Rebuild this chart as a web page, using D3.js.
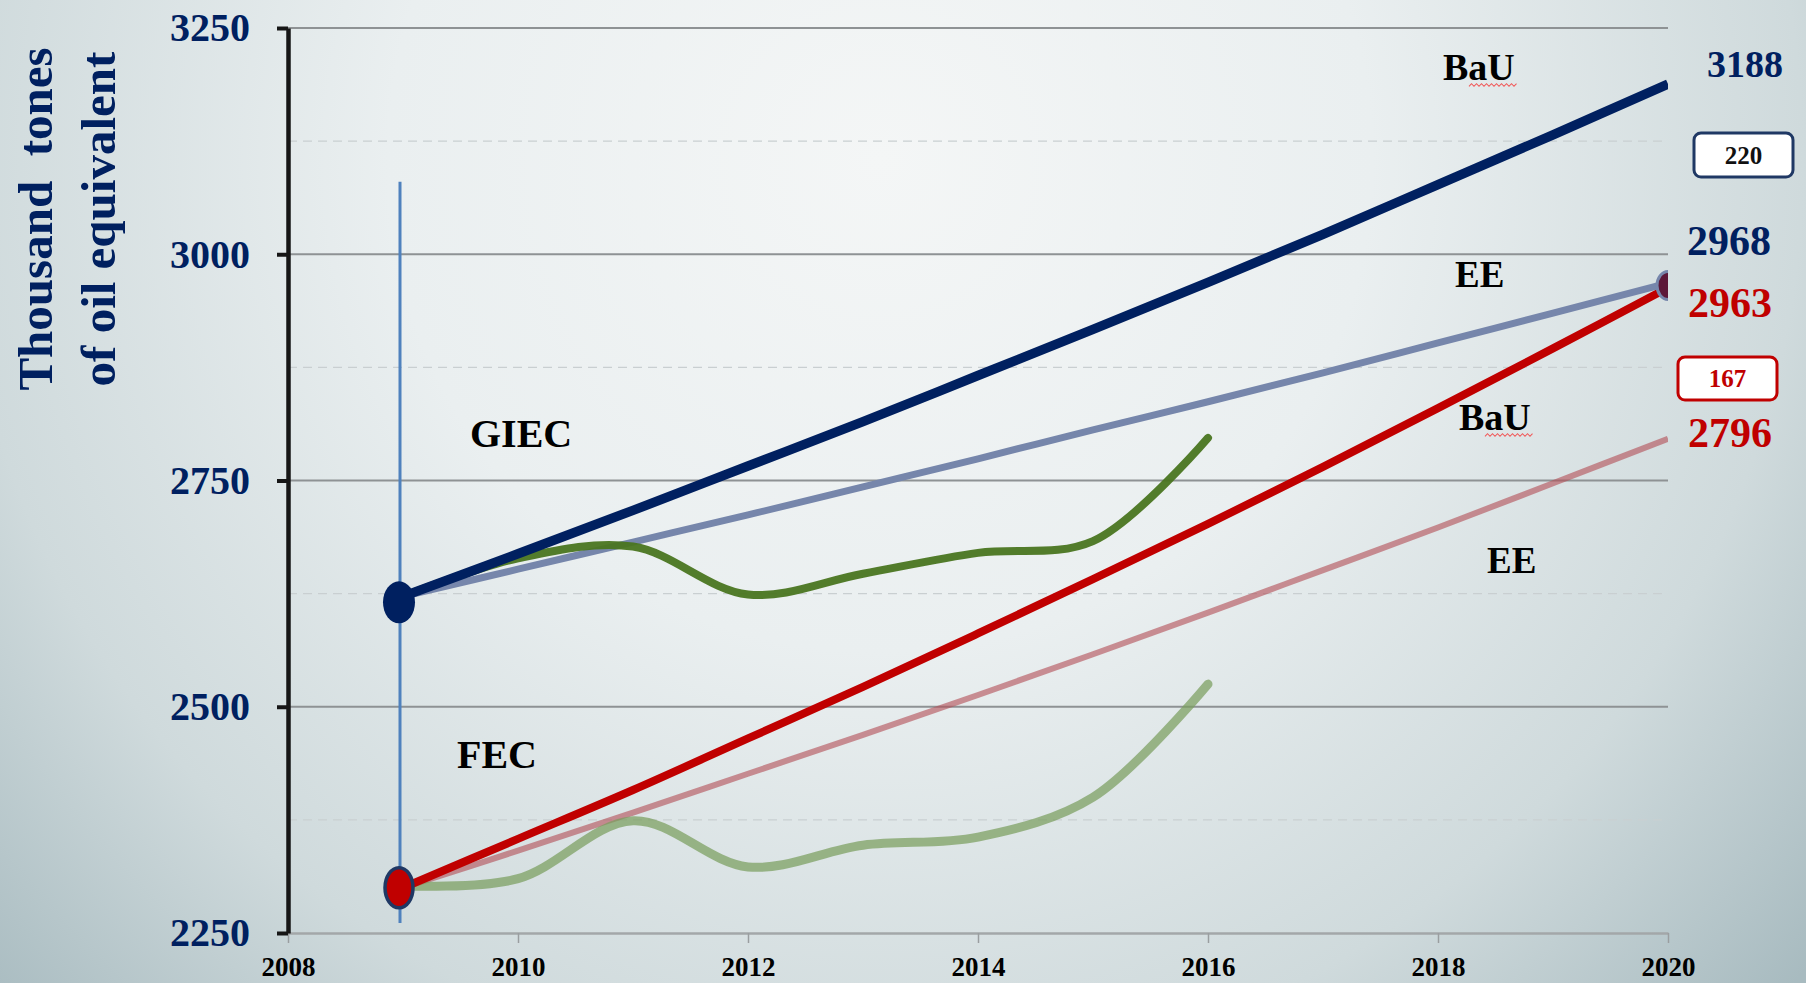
<!DOCTYPE html>
<html>
<head>
<meta charset="utf-8">
<script src="https://cdn.jsdelivr.net/npm/d3@7/dist/d3.min.js"></script>
<style>
  html, body { margin: 0; padding: 0; background: #e6ecec; }
  svg { display: block; }
  text { font-family: "Liberation Serif", "Times New Roman", serif; font-weight: bold; }
</style>
</head>
<body>
<svg id="chart" width="1806" height="983"></svg>
<script>
// ---------------- data ----------------
const scenarioYears = [2009, 2010, 2011, 2012, 2013, 2014, 2015, 2016, 2017, 2018, 2019, 2020];
const giecBaU = [2622, 2669, 2717, 2766, 2815, 2866, 2917, 2969, 3022, 3077, 3132, 3188];
const giecEE  = [2622, 2652, 2682, 2712, 2743, 2774, 2806, 2837, 2869, 2902, 2935, 2968];
const fecBaU  = [2300, 2354, 2408, 2465, 2522, 2581, 2641, 2702, 2765, 2830, 2896, 2963];
const fecEE   = [2300, 2341, 2383, 2426, 2469, 2513, 2558, 2604, 2651, 2698, 2747, 2796];
const actualYears = [2009, 2010, 2011, 2012, 2013, 2014, 2015, 2016];
const giecActual = [2622, 2664, 2677, 2624, 2647, 2670, 2683, 2797];
const fecActual  = [2302, 2310, 2374, 2323, 2347, 2356, 2400, 2525];
const xTicks = [2008, 2010, 2012, 2014, 2016, 2018, 2020];
const yTicks = [2250, 2500, 2750, 3000, 3250];
const yMinorGrid = [2375, 2625, 2875, 3125];
const yTitle = ["Thousand  tones", "of oil equivalent"];
const endLabels = ["3188", "2968", "2963", "2796"];
const diffLabels = ["220", "167"];

// ---------------- layout ----------------
const W = 1806, H = 983;
const svg = d3.select("#chart");
const x = d3.scaleLinear().domain([2008, 2020]).range([288, 1668]);
const y = d3.scaleLinear().domain([2250, 3250]).range([933, 28]);

const NAVY = "#002060";
const RED = "#c00000";

// background
const defs = svg.append("defs");
const bg = defs.append("radialGradient").attr("id", "bg")
  .attr("gradientUnits", "userSpaceOnUse")
  .attr("cx", 880).attr("cy", 160).attr("r", 1230);
bg.append("stop").attr("offset", 0).attr("stop-color", "#f4f6f6");
bg.append("stop").attr("offset", 0.4).attr("stop-color", "#eaeff0");
bg.append("stop").attr("offset", 0.75).attr("stop-color", "#cfdadc");
bg.append("stop").attr("offset", 1).attr("stop-color", "#a8bbc0");
svg.append("rect").attr("width", W).attr("height", H).attr("fill", "url(#bg)");

defs.append("clipPath").attr("id", "plotclip").append("rect")
  .attr("x", 0).attr("y", 0).attr("width", x(2020)).attr("height", H);

// gridlines
const g = svg.append("g");
g.selectAll("line.minor").data(yMinorGrid).join("line")
  .attr("x1", x(2008)).attr("x2", x(2020))
  .attr("y1", d => y(d)).attr("y2", d => y(d))
  .attr("stroke", "#c9cfd1").attr("stroke-width", 1.3).attr("stroke-dasharray", "9,6");
g.selectAll("line.major").data(yTicks.slice(1)).join("line")
  .attr("x1", x(2008)).attr("x2", x(2020))
  .attr("y1", d => y(d)).attr("y2", d => y(d))
  .attr("stroke", "#8e9294").attr("stroke-width", 1.8);

// x axis
const xAxis = svg.append("g").attr("transform", `translate(0,${y(2250)})`)
  .call(d3.axisBottom(x).tickValues(xTicks).tickFormat(d3.format("d")).tickSize(10).tickSizeOuter(0).tickPadding(14));
xAxis.select(".domain").attr("stroke", "#a3a7a9").attr("stroke-width", 2.5);
xAxis.selectAll(".tick line").attr("stroke", "#9a9ea0").attr("stroke-width", 1.5);
xAxis.selectAll(".tick text").attr("fill", "#000").style("font-size", "27px")
  .style("font-family", "'Liberation Serif', serif").style("font-weight", "bold");

// y axis
const yAxis = svg.append("g").attr("transform", `translate(${x(2008)},0)`)
  .call(d3.axisLeft(y).tickValues(yTicks).tickFormat(d3.format("d")).tickSize(11).tickSizeOuter(0).tickPadding(27));
yAxis.select(".domain").attr("stroke", "#161616").attr("stroke-width", 4.5);
yAxis.selectAll(".tick line").attr("stroke", "#161616").attr("stroke-width", 4);
yAxis.selectAll(".tick text").attr("fill", NAVY).style("font-size", "40px")
  .style("font-family", "'Liberation Serif', serif").style("font-weight", "bold");

// y title
svg.append("g").attr("transform", "translate(52,219) rotate(-90)")
  .selectAll("text").data(yTitle).join("text")
  .attr("x", 0).attr("y", (d, i) => i * 63)
  .attr("text-anchor", "middle").attr("fill", NAVY)
  .style("font-size", "49px").style("white-space", "pre")
  .text(d => d);

// vertical reference line at 2009
svg.append("line")
  .attr("x1", x(2009) - 3).attr("x2", x(2009) - 3)
  .attr("y1", y(3080)).attr("y2", y(2261))
  .attr("stroke", "#4f81bd").attr("stroke-width", 3);

// lines
const line = (xs, vs) => d3.line().x((d, i) => x(xs[i])).y(d => y(d)).curve(d3.curveCatmullRom.alpha(0.5))(vs);
const plot = svg.append("g").attr("clip-path", "url(#plotclip)");

plot.append("path").attr("d", line(scenarioYears, fecEE))
  .attr("fill", "none").attr("stroke", "#b35058").attr("stroke-opacity", 0.62).attr("stroke-width", 6);
plot.append("path").attr("d", line(actualYears, fecActual))
  .attr("fill", "none").attr("stroke", "#7a9e5e").attr("stroke-opacity", 0.72).attr("stroke-width", 9)
  .attr("stroke-linecap", "round");
plot.append("path").attr("d", line(scenarioYears, fecBaU))
  .attr("fill", "none").attr("stroke", RED).attr("stroke-width", 8);
plot.append("path").attr("d", line(scenarioYears, giecEE))
  .attr("fill", "none").attr("stroke", "#7686ab").attr("stroke-width", 7);
plot.append("path").attr("d", line(actualYears, giecActual))
  .attr("fill", "none").attr("stroke", "#4a7520").attr("stroke-opacity", 0.95).attr("stroke-width", 8)
  .attr("stroke-linecap", "round");
plot.append("path").attr("d", line(scenarioYears, giecBaU))
  .attr("fill", "none").attr("stroke", NAVY).attr("stroke-width", 9.5);

// markers
svg.append("ellipse").attr("cx", x(2009) - 4).attr("cy", y(giecBaU[0]) + 6)
  .attr("rx", 16).attr("ry", 21).attr("fill", NAVY);
svg.append("ellipse").attr("cx", x(2009) - 4).attr("cy", y(fecBaU[0]))
  .attr("rx", 14).attr("ry", 20).attr("fill", RED)
  .attr("stroke", "#1f3864").attr("stroke-width", 3.5);
plot.append("ellipse").attr("cx", x(2020)).attr("cy", y((giecEE[11] + fecBaU[11]) / 2))
  .attr("rx", 11).attr("ry", 14).attr("fill", "#5c1738")
  .attr("stroke", "#7686ab").attr("stroke-width", 3);

// scenario labels
const lab = (t, xx, yy, size, color) => svg.append("text").attr("x", xx).attr("y", yy)
  .attr("fill", color).style("font-size", size + "px").text(t);
lab("GIEC", 470, 447, 40, "#000");
lab("FEC", 457, 768, 40, "#000");
lab("BaU", 1443, 80, 38, "#000");
lab("EE", 1455, 287, 37, "#000");
lab("BaU", 1459, 430, 38, "#000");
lab("EE", 1487, 573, 37, "#000");

// spell-check wavy underlines
const wavy = (x0, x1, yy) => {
  const pts = [];
  for (let xx = x0, k = 0; xx <= x1; xx += 2.5, k++) pts.push([xx, yy + (k % 2 ? -1.3 : 1.3)]);
  svg.append("path").attr("d", d3.line()(pts)).attr("fill", "none")
    .attr("stroke", "#f05a5a").attr("stroke-width", 1.1);
};
wavy(1469, 1518, 85);
wavy(1485, 1533, 435);

// end value labels
lab(endLabels[0], 1707, 77, 38, NAVY);
lab(endLabels[1], 1687, 255, 42, NAVY);
lab(endLabels[2], 1688, 317, 42, RED);
lab(endLabels[3], 1688, 447, 42, RED);

// difference boxes
const box = (t, bx, by, bw, bh, stroke, color) => {
  svg.append("rect").attr("x", bx).attr("y", by).attr("width", bw).attr("height", bh)
    .attr("rx", 7).attr("fill", "#fff").attr("stroke", stroke).attr("stroke-width", 3);
  svg.append("text").attr("x", bx + bw / 2).attr("y", by + bh / 2 + 8.5)
    .attr("text-anchor", "middle").attr("fill", color).style("font-size", "25px").text(t);
};
box(diffLabels[0], 1694, 133, 99, 44, "#1f3864", "#111");
box(diffLabels[1], 1678, 357, 99, 43, RED, RED);
</script>
</body>
</html>
